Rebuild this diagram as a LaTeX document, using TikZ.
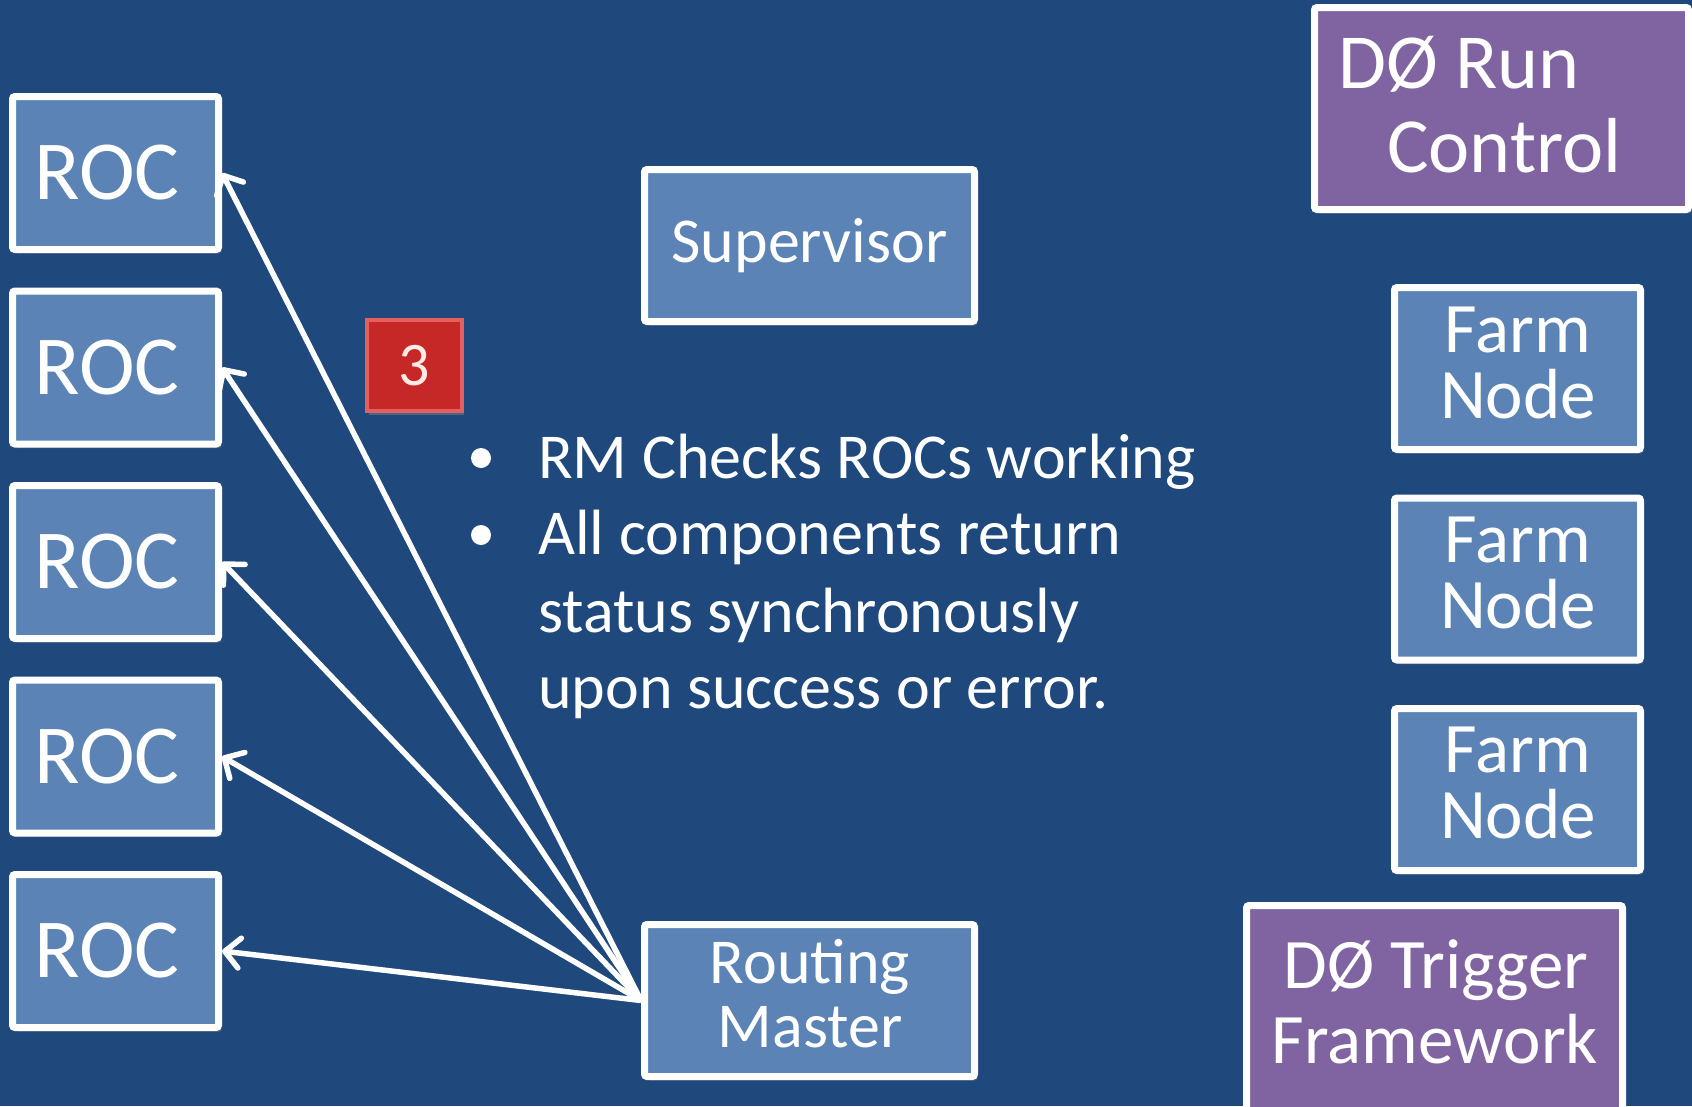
\documentclass[tikz,border=0pt]{standalone}
\usepackage{fontspec}
\setmainfont{Carlito}
\usetikzlibrary{arrows.meta,shadows}
\definecolor{bg}{RGB}{31,72,124}
\definecolor{boxblue}{RGB}{92,131,181}
\definecolor{boxpurple}{RGB}{128,100,161}
\definecolor{badgered}{RGB}{198,40,40}
\definecolor{badgeedge}{RGB}{228,95,95}
\definecolor{badgetext}{RGB}{255,235,230}
\begin{document}
\begin{tikzpicture}[x=1pt,y=-1pt,
  box/.style={draw=white, line width=7pt, fill=boxblue, text=white,
    rounded corners=2.5pt, align=center, inner sep=0pt,
    drop shadow={opacity=0.45, shadow xshift=3pt, shadow yshift=-4pt}},
  pbox/.style={box, fill=boxpurple},
  rocbox/.style={box, minimum width=206pt, minimum height=153pt,
    font=\fontsize{84}{84}\selectfont},
  farmbox/.style={box, minimum width=246pt, minimum height=162pt},
  midbox/.style={box, minimum width=330pt, minimum height=152pt,
    font=\fontsize{64}{64}\selectfont},
  txt/.style={text=white, inner sep=0pt, anchor=base west},
  ctxt/.style={text=white, inner sep=0pt, anchor=base},
  farmtxt/.style={ctxt, font=\fontsize{71}{68}\selectfont},
  bul/.style={circle, fill=white, minimum size=20pt, inner sep=0pt},
  arr/.style={draw=white, line width=5.5pt,
    -{Straight Barb[length=15pt,width=30pt,round]}}]
\useasboundingbox (0,0) rectangle (1692,1106);
\clip (0,0) rectangle (1692,1106);
\fill[bg] (0,0) rectangle (1692,1106);

% ROC boxes
\node[rocbox] (roc1) at (115.5,173) {ROC\hspace*{17pt}};
\node[rocbox] (roc2) at (115.5,367.5) {ROC\hspace*{17pt}};
\node[rocbox] (roc3) at (115.5,562) {ROC\hspace*{17pt}};
\node[rocbox] (roc4) at (115.5,756.5) {ROC\hspace*{17pt}};
\node[rocbox] (roc5) at (115.5,951) {ROC\hspace*{17pt}};

% Supervisor and Routing Master
\node[midbox] (sup) at (809.5,245.5) {Supervisor};
\node[midbox] (rm) at (809.5,1000.5) {};
\node[ctxt, font=\fontsize{64}{64}\selectfont] (rmt1) at (810,983) {Routing};
\node[ctxt, font=\fontsize{64}{64}\selectfont] (rmt2) at (810,1047) {Master};

% Farm nodes
\node[farmbox] (farm1) at (1517.5,368.5) {};
\node[farmbox] (farm2) at (1517.5,579) {};
\node[farmbox] (farm3) at (1517.5,789.5) {};
\node[farmtxt] (f1a) at (1518,352) {Farm};
\node[farmtxt] (f1b) at (1518,418) {Node};
\node[farmtxt] (f2a) at (1518,562) {Farm};
\node[farmtxt] (f2b) at (1518,628) {Node};
\node[farmtxt] (f3a) at (1518,772) {Farm};
\node[farmtxt] (f3b) at (1518,838) {Node};

% Run Control (partly off the page)
\node[pbox, minimum width=374pt, minimum height=202pt] (rc) at (1501.5,108.5) {};
\node[txt, font=\fontsize{78}{84}\selectfont] (rct1) at (1338,88) {DØ Run};
\node[txt, font=\fontsize{78}{84}\selectfont] (rct2) at (1387,172) {Control};

% Trigger Framework (partly off the page)
\node[pbox, minimum width=376pt, minimum height=240pt] (tf) at (1434.5,1025.5) {};
\node[ctxt, font=\fontsize{71}{75}\selectfont] (tft1) at (1436,988) {DØ Trigger};
\node[ctxt, font=\fontsize{71}{75}\selectfont] (tft2) at (1435,1063) {Framework};

% Badge
\node[fill=badgered, draw=badgeedge, line width=4pt, minimum width=95pt, minimum height=91pt,
  inner sep=0pt, text=badgetext, font=\fontsize{62}{62}\selectfont,
  drop shadow={opacity=0.5, shadow xshift=2pt, shadow yshift=-4pt}] (badge) at (414.5,365.5) {3};

% Bullet text
\node[bul] (b1) at (481,458) {};
\node[bul] (b2) at (481,535) {};
\node[txt, font=\fontsize{64}{76}\selectfont] (l1) at (538,478) {RM Checks ROCs working};
\node[txt, font=\fontsize{64}{76}\selectfont] (l2) at (538,554) {All components return};
\node[txt, font=\fontsize{64}{76}\selectfont] (l3) at (538,632) {status synchronously};
\node[txt, font=\fontsize{64}{76}\selectfont] (l4) at (538,708) {upon success or error.};

% Arrows
\draw[arr] (rm.west) -- (roc1.east);
\draw[arr] (rm.west) -- (roc2.east);
\draw[arr] (rm.west) -- (roc3.east);
\draw[arr] (rm.west) -- (roc4.east);
\draw[arr] (rm.west) -- (roc5.east);
\end{tikzpicture}
\end{document}
